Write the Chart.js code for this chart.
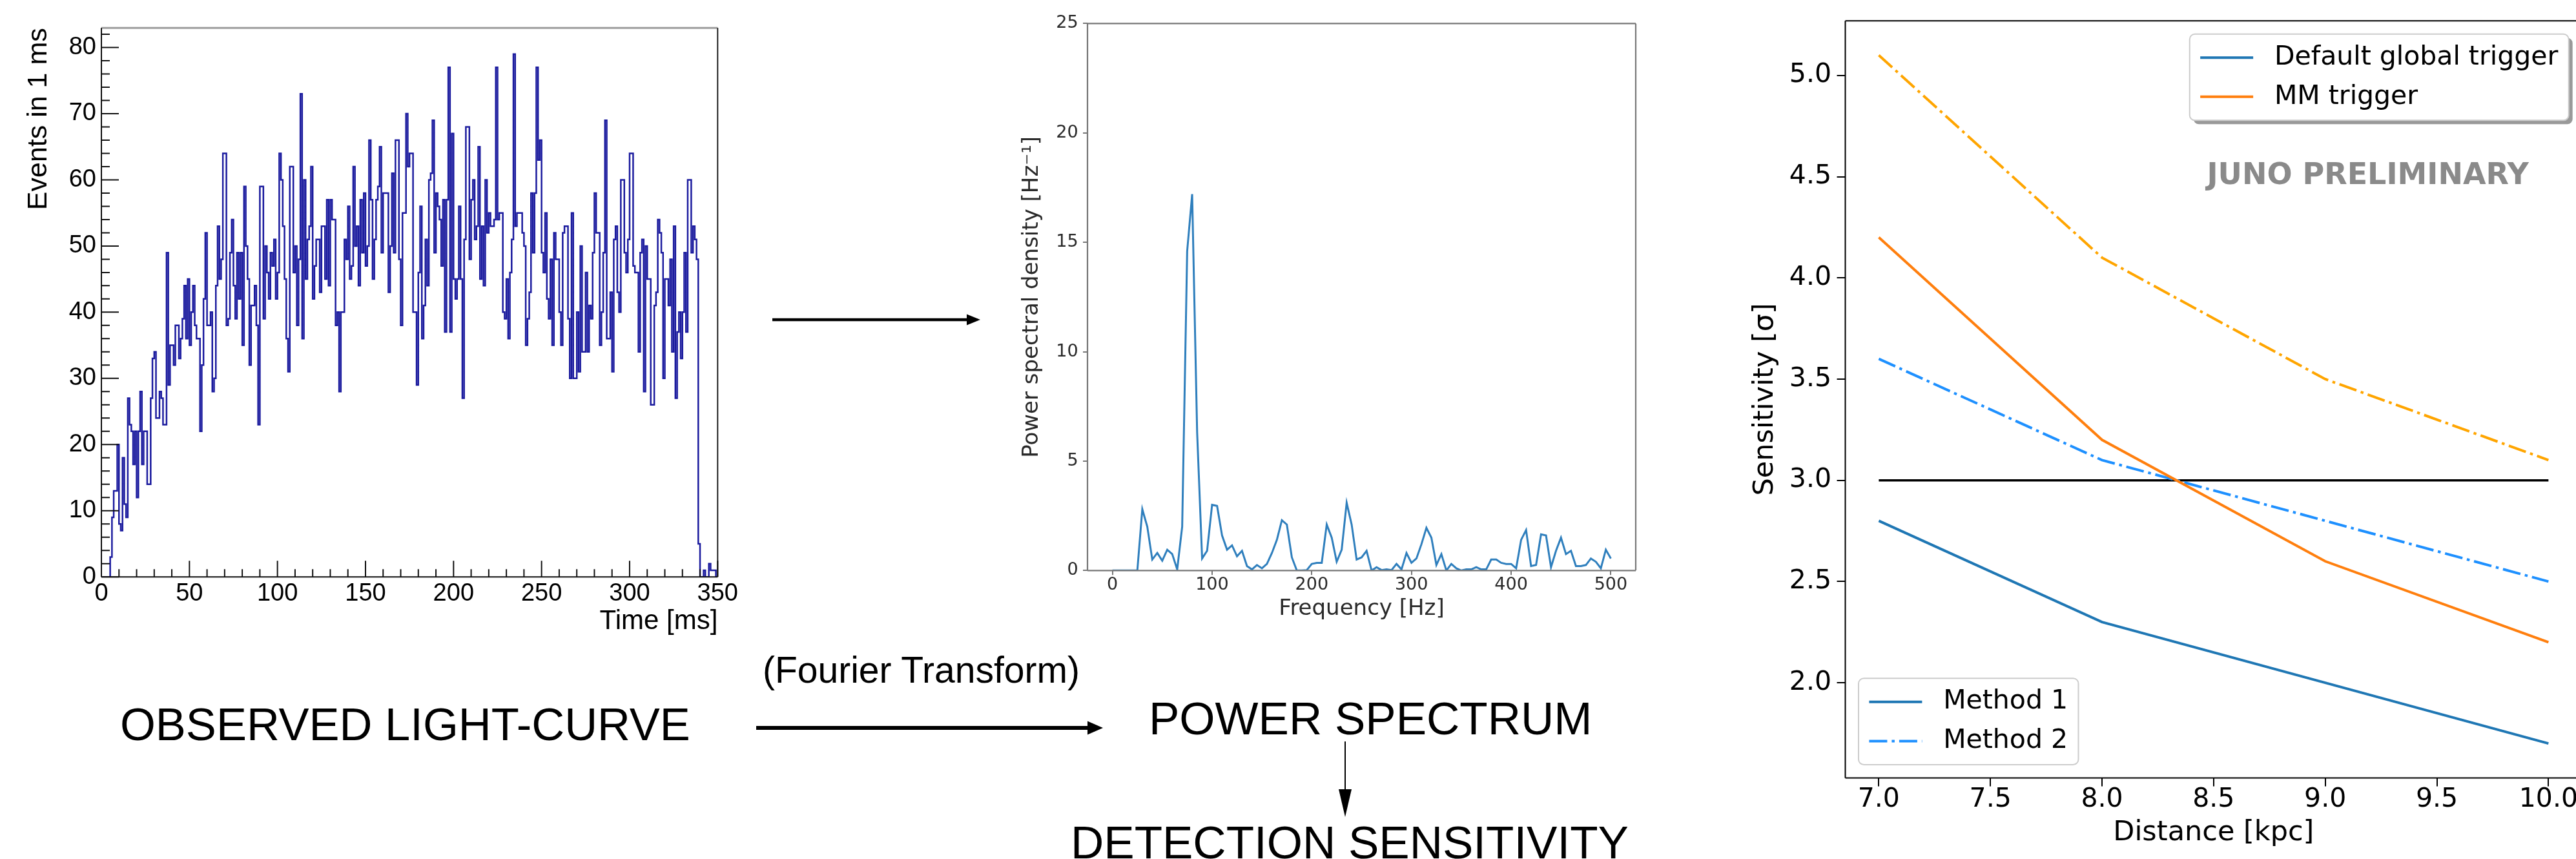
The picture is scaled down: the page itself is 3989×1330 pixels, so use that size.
<!DOCTYPE html>
<html>
<head>
<meta charset="utf-8">
<title>Light curve, power spectrum and detection sensitivity</title>
<script src="https://cdn.jsdelivr.net/npm/chart.js@4.4.1/dist/chart.umd.min.js"></script>
<style>
  html, body { margin: 0; padding: 0; background: #fff; }
  body { width: 3989px; height: 1330px; position: relative; overflow: hidden; font-family: 'Liberation Sans', Arial, sans-serif; }
  canvas { position: absolute; }
  #lightCurve { left: 0; top: 0; }
  #spectrum { left: 1560px; top: 0; }
  #sensitivity { left: 2650px; top: 0; }
  .label { position: absolute; white-space: nowrap; line-height: 1; color: #000; }
  svg { position: absolute; left: 0; top: 0; }
</style>
</head>
<body>
<canvas id="lightCurve" width="1160" height="1010"></canvas>
<canvas id="spectrum" width="1000" height="1000"></canvas>
<canvas id="sensitivity" width="1400" height="1330"></canvas>

<div class="label" style="left:186px; top:1087px; font-size:70.5px;">OBSERVED LIGHT-CURVE</div>
<div class="label" style="left:1181px; top:1009px; font-size:57px;">(Fourier Transform)</div>
<div class="label" style="left:1779px; top:1077px; font-size:71px;">POWER SPECTRUM</div>
<div class="label" style="left:1658px; top:1269px; font-size:71px;">DETECTION SENSITIVITY</div>

<svg width="3989" height="1330">
  <!-- light curve -> spectrum -->
  <line x1="1196" y1="495" x2="1500" y2="495" stroke="#000" stroke-width="4.5"/>
  <polygon points="1497,486.5 1518,495 1497,503.5" fill="#000"/>
  <!-- fourier transform arrow -->
  <line x1="1171" y1="1127" x2="1688" y2="1127" stroke="#000" stroke-width="6"/>
  <polygon points="1684,1116.5 1708,1127 1684,1137.5" fill="#000"/>
  <!-- spectrum -> sensitivity -->
  <line x1="2083" y1="1148" x2="2083" y2="1225" stroke="#000" stroke-width="2"/>
  <polygon points="2073,1222 2093,1222 2083,1265" fill="#000"/>
</svg>

<script>
// ---- light curve: events per 1 ms bin, bins starting at 0 ms ----
var lcCounts = [
  0, 0, 0, 0, 0, 3, 9, 13, 13, 20,
  8, 7, 18, 11, 9, 27, 23, 22, 17, 22,
  12, 22, 28, 17, 22, 22, 14, 14, 27, 33,
  34, 24, 24, 28, 27, 23, 23, 49, 29, 35,
  35, 32, 38, 38, 33, 36, 39, 44, 36, 45,
  35, 40, 44, 38, 36, 36, 22, 32, 42, 52,
  38, 38, 40, 28, 30, 44, 53, 45, 48, 64,
  64, 38, 39, 49, 54, 44, 39, 49, 42, 49,
  35, 59, 50, 45, 32, 41, 41, 44, 38, 23,
  59, 59, 39, 50, 46, 42, 49, 47, 51, 42,
  46, 64, 60, 53, 45, 36, 31, 62, 62, 46,
  50, 38, 48, 73, 36, 60, 45, 51, 53, 62,
  42, 47, 51, 51, 43, 53, 53, 45, 57, 44,
  57, 54, 54, 38, 40, 28, 40, 40, 51, 48,
  56, 45, 47, 62, 50, 53, 44, 57, 49, 58,
  47, 50, 66, 57, 45, 51, 57, 59, 65, 49,
  58, 58, 58, 43, 50, 61, 49, 66, 66, 48,
  38, 55, 55, 70, 62, 64, 64, 40, 40, 29,
  46, 56, 36, 41, 51, 44, 60, 61, 69, 49,
  58, 56, 54, 47, 57, 37, 57, 77, 37, 67,
  45, 42, 45, 56, 45, 27, 51, 68, 68, 48,
  57, 60, 51, 53, 65, 45, 53, 44, 60, 52,
  55, 53, 53, 54, 77, 54, 55, 55, 40, 39,
  45, 36, 46, 51, 79, 53, 55, 55, 55, 52,
  50, 35, 39, 43, 58, 49, 58, 77, 63, 66,
  49, 46, 55, 42, 39, 48, 35, 52, 48, 48,
  40, 35, 52, 53, 53, 39, 30, 55, 30, 30,
  40, 31, 50, 34, 34, 46, 34, 41, 39, 49,
  58, 52, 52, 35, 40, 49, 69, 36, 36, 43,
  31, 51, 53, 43, 40, 60, 60, 49, 46, 51,
  64, 64, 47, 46, 46, 34, 49, 51, 28, 50,
  45, 45, 26, 26, 41, 43, 54, 52, 49, 30,
  45, 45, 41, 48, 34, 53, 27, 37, 40, 33,
  40, 49, 37, 60, 60, 49, 53, 51, 48, 5,
  0, 0, 1, 0, 0, 2, 1, 1, 1, 0
];
var lcXTicks = [0, 50, 100, 150, 200, 250, 300, 350];
var lcYTicks = [0, 10, 20, 30, 40, 50, 60, 70, 80];

// ---- power spectrum ----
var psdFreq = [
  0, 5, 10, 15, 20, 25, 30, 35, 40, 45, 50, 55, 60, 65, 70, 75, 80, 85, 90, 95,
  100, 105, 110, 115, 120, 125, 130, 135, 140, 145, 150, 155, 160, 165, 170, 175, 180, 185, 190, 195,
  200, 205, 210, 215, 220, 225, 230, 235, 240, 245, 250, 255, 260, 265, 270, 275, 280, 285, 290, 295,
  300, 305, 310, 315, 320, 325, 330, 335, 340, 345, 350, 355, 360, 365, 370, 375, 380, 385, 390, 395,
  400, 405, 410, 415, 420, 425, 430, 435, 440, 445, 450, 455, 460, 465, 470, 475, 480, 485, 490, 495, 500
];
var psdPower = [
  0, 0, 0, 0, 0, 0, 2.8, 2.0, 0.5, 0.8, 0.45, 0.95, 0.75, 0.05, 2.0, 14.6, 17.2, 6.3, 0.55, 0.9,
  3.0, 2.95, 1.6, 0.95, 1.15, 0.65, 0.9, 0.2, 0.05, 0.25, 0.1, 0.3, 0.8, 1.4, 2.3, 2.1, 0.6, 0.0, 0.0, 0.02,
  0.3, 0.35, 0.35, 2.1, 1.5, 0.4, 0.95, 3.1, 2.1, 0.5, 0.6, 0.9, 0.0, 0.15, 0.02, 0.05, 0.02, 0.3, 0.05, 0.8,
  0.35, 0.55, 1.2, 1.95, 1.5, 0.25, 0.75, 0.0, 0.3, 0.1, 0.0, 0.05, 0.05, 0.15, 0.05, 0.05, 0.5, 0.5, 0.35, 0.3,
  0.3, 0.1, 1.4, 1.85, 0.2, 0.25, 1.65, 1.6, 0.15, 0.9, 1.5, 0.75, 0.9, 0.2, 0.2, 0.25, 0.55, 0.4, 0.1, 0.95, 0.55
];
var psdXTicks = [0, 100, 200, 300, 400, 500];
var psdYTicks = [0, 5, 10, 15, 20, 25];

// ---- sensitivity vs distance ----
var distance = [7.0, 8.0, 9.0, 10.0];
var m1Default = [2.8, 2.3, 2.0, 1.7];
var m1MM = [4.2, 3.2, 2.6, 2.2];
var m2Default = [3.6, 3.1, 2.8, 2.5];
var m2MM = [5.1, 4.1, 3.5, 3.1];
var threeSigma = [3.0, 3.0, 3.0, 3.0];
var sensXTicks = [7.0, 7.5, 8.0, 8.5, 9.0, 9.5, 10.0];
var sensYTicks = [2.0, 2.5, 3.0, 3.5, 4.0, 4.5, 5.0];
var triggerNames = ['Default global trigger', 'MM trigger'];
var methodNames = ['Method 1', 'Method 2'];

function pairs(xs, ys) {
  return ys.map(function(v, i) { return {x: xs[i], y: v}; });
}
function fixedTicks(list) {
  return function(scale) { scale.ticks = list.map(function(v) { return {value: v}; }); };
}

// box around the plotting area, one colour per side
var framePlugin = {
  id: 'frame',
  afterDatasetsDraw: function(chart, args, o) {
    var ctx = chart.ctx, a = chart.chartArea;
    var sides = [
      ['top', a.left, a.top, a.right, a.top],
      ['right', a.right, a.top, a.right, a.bottom],
      ['bottom', a.left, a.bottom, a.right, a.bottom],
      ['left', a.left, a.top, a.left, a.bottom]
    ];
    ctx.save();
    sides.forEach(function(s) {
      ctx.beginPath();
      ctx.strokeStyle = o[s[0]] || o.color;
      ctx.lineWidth = o[s[0] + 'Width'] || o.width;
      ctx.moveTo(s[1], s[2]);
      ctx.lineTo(s[3], s[4]);
      ctx.stroke();
    });
    ctx.restore();
  }
};

// ROOT style inward ticks with minor divisions
var rootTicks = {
  id: 'rootTicks',
  afterDatasetsDraw: function(chart, args, o) {
    var ctx = chart.ctx, a = chart.chartArea, x = chart.scales.x, y = chart.scales.y;
    ctx.save();
    ctx.strokeStyle = o.color;
    ctx.lineWidth = o.width;
    ctx.beginPath();
    for (var i = 0; i <= 35; i++) {
      var px = x.getPixelForValue(i * 10);
      var len = i % 5 === 0 ? o.xMajor : o.xMinor;
      ctx.moveTo(px, a.bottom);
      ctx.lineTo(px, a.bottom - len);
    }
    for (var j = 0; j <= 41; j++) {
      var py = y.getPixelForValue(j * 2);
      var ylen = j % 5 === 0 ? o.yMajor : o.yMinor;
      ctx.moveTo(a.left, py);
      ctx.lineTo(a.left + ylen, py);
    }
    ctx.stroke();
    ctx.restore();
  }
};

// matplotlib style legend boxes
var legendBoxes = {
  id: 'legendBoxes',
  afterDraw: function(chart, args, o) {
    var ctx = chart.ctx, a = chart.chartArea, fs = o.size;
    ctx.save();
    ctx.font = fs + 'px ' + o.family;
    o.boxes.forEach(function(box) {
      var pad = 0.4 * fs, handle = 2 * fs, gap = 0.8 * fs, rowH = 0.98 * fs, space = 0.5 * fs, edge = 0.5 * fs;
      var textW = Math.max.apply(null, box.items.map(function(it) { return ctx.measureText(it.text).width; }));
      var w = 2 * pad + handle + gap + textW;
      var h = 2 * pad + box.items.length * rowH + (box.items.length - 1) * space;
      var bx = box.loc === 'upper right' ? a.right - edge - w : a.left + edge;
      var by = box.loc === 'upper right' ? a.top + edge : a.bottom - edge - h;
      if (box.shadow) {
        ctx.beginPath();
        ctx.fillStyle = 'rgba(0,0,0,0.4)';
        ctx.roundRect(bx + 6, by + 6, w, h, 0.2 * fs);
        ctx.fill();
      }
      ctx.beginPath();
      ctx.fillStyle = '#fff';
      ctx.strokeStyle = '#cccccc';
      ctx.lineWidth = 2;
      ctx.roundRect(bx, by, w, h, 0.2 * fs);
      ctx.fill();
      ctx.stroke();
      box.items.forEach(function(it, i) {
        var ds = chart.data.datasets[it.ds];
        var cy = by + pad + rowH / 2 + i * (rowH + space);
        ctx.beginPath();
        ctx.setLineDash(ds.borderDash || []);
        ctx.strokeStyle = ds.borderColor;
        ctx.lineWidth = ds.borderWidth;
        ctx.moveTo(bx + pad, cy);
        ctx.lineTo(bx + pad + handle, cy);
        ctx.stroke();
        ctx.setLineDash([]);
        ctx.fillStyle = '#000';
        ctx.textAlign = 'left';
        ctx.textBaseline = 'middle';
        ctx.fillText(it.text, bx + pad + handle + gap, cy);
      });
    });
    ctx.restore();
  }
};

var watermark = {
  id: 'watermark',
  afterDatasetsDraw: function(chart, args, o) {
    var ctx = chart.ctx;
    ctx.save();
    ctx.font = o.font;
    ctx.fillStyle = o.color;
    ctx.textAlign = 'left';
    ctx.textBaseline = 'middle';
    ctx.fillText(o.text, chart.scales.x.getPixelForValue(o.x), chart.scales.y.getPixelForValue(o.y));
    ctx.restore();
  }
};

// ---------- observed light curve ----------
var lcPoints = pairs(lcCounts.map(function(v, i) { return i; }), lcCounts);
lcPoints.push({x: lcCounts.length, y: lcCounts[lcCounts.length - 1]});

var rootFont = {family: 'Liberation Sans', size: 38, lineHeight: 1};

new Chart(document.getElementById('lightCurve'), {
  type: 'line',
  data: {
    datasets: [{
      data: lcPoints,
      stepped: 'before',
      borderColor: '#1b1b9e',
      borderWidth: 2.5,
      pointRadius: 0,
      fill: false
    }]
  },
  options: {
    responsive: false,
    animation: false,
    layout: {padding: {top: 43.2, right: 48.7, left: 0, bottom: 0}},
    plugins: {
      legend: {display: false},
      tooltip: {enabled: false},
      frame: {color: '#111', width: 2, top: '#9c9c9c', topWidth: 3, right: '#222'},
      rootTicks: {color: '#111', width: 2, xMajor: 25, xMinor: 12, yMajor: 27, yMinor: 13}
    },
    scales: {
      x: {
        type: 'linear', min: 0, max: 350,
        afterBuildTicks: fixedTicks(lcXTicks),
        afterFit: function(s) { s.height = 116.7; },
        grid: {display: false, drawTicks: false},
        border: {display: false},
        ticks: {color: '#000', font: rootFont, padding: 7, maxRotation: 0, autoSkip: false},
        title: {display: true, text: 'Time [ms]', align: 'end', color: '#000',
                font: {family: 'Liberation Sans', size: 42}, padding: {top: 0, bottom: 22.5}}
      },
      y: {
        type: 'linear', min: 0, max: 82.95,
        afterBuildTicks: fixedTicks(lcYTicks),
        afterFit: function(s) { s.width = 157; },
        grid: {display: false, drawTicks: false},
        border: {display: false},
        ticks: {color: '#000', font: rootFont, padding: 8},
        title: {display: true, text: 'Events in 1 ms', align: 'end', color: '#000',
                font: {family: 'Liberation Sans', size: 43}, padding: {top: 34, bottom: 0}}
      }
    }
  },
  plugins: [framePlugin, rootTicks]
});

// ---------- power spectrum ----------
var mplSmall = {family: 'DejaVu Sans', size: 27, lineHeight: 1};

new Chart(document.getElementById('spectrum'), {
  type: 'line',
  data: {
    datasets: [{
      data: pairs(psdFreq, psdPower),
      borderColor: '#2f7fbd',
      borderWidth: 3,
      pointRadius: 0,
      tension: 0,
      fill: false
    }]
  },
  options: {
    responsive: false,
    animation: false,
    layout: {padding: {top: 36.4, right: 27, left: 0, bottom: 0}},
    plugins: {
      legend: {display: false},
      tooltip: {enabled: false},
      frame: {color: '#777', width: 2.2}
    },
    scales: {
      x: {
        type: 'linear', min: -25, max: 525,
        afterBuildTicks: fixedTicks(psdXTicks),
        afterFit: function(s) { s.height = 116.7; },
        grid: {drawOnChartArea: false, drawTicks: true, tickLength: 7, color: '#777', lineWidth: 2},
        border: {display: false},
        ticks: {color: '#2a2a2a', font: mplSmall, padding: 2.5, maxRotation: 0, autoSkip: false},
        title: {display: true, text: 'Frequency [Hz]', color: '#2a2a2a',
                font: {family: 'DejaVu Sans', size: 34}, padding: {top: 0, bottom: 36.6}}
      },
      y: {
        type: 'linear', min: 0, max: 25,
        afterBuildTicks: fixedTicks(psdYTicks),
        afterFit: function(s) { s.width = 124; },
        grid: {drawOnChartArea: false, drawTicks: true, tickLength: 7, color: '#777', lineWidth: 2},
        border: {display: false},
        ticks: {color: '#2a2a2a', font: mplSmall, padding: 7.4},
        title: {display: true, text: 'Power spectral density [Hz⁻¹]', color: '#2a2a2a',
                font: {family: 'DejaVu Sans', size: 34}, padding: {top: 17.6, bottom: 0}}
      }
    }
  },
  plugins: [framePlugin]
});

// ---------- detection sensitivity ----------
var mplTick = {family: 'DejaVu Sans', size: 41, lineHeight: 1};
var dashDot = [28, 7, 4.5, 7];

new Chart(document.getElementById('sensitivity'), {
  type: 'line',
  data: {
    datasets: [
      {label: triggerNames[0], data: pairs(distance, m1Default), borderColor: '#1f77b4', borderWidth: 4},
      {label: triggerNames[1], data: pairs(distance, m1MM), borderColor: '#ff7f0e', borderWidth: 4},
      {label: triggerNames[0], data: pairs(distance, m2Default), borderColor: '#1e90ff', borderWidth: 4, borderDash: dashDot},
      {label: triggerNames[1], data: pairs(distance, m2MM), borderColor: '#ffa500', borderWidth: 4, borderDash: dashDot},
      {label: '3 sigma', data: pairs(distance, threeSigma), borderColor: '#000', borderWidth: 3.5}
    ].map(function(d) { d.pointRadius = 0; d.fill = false; d.tension = 0; return d; })
  },
  options: {
    responsive: false,
    animation: false,
    layout: {padding: {top: 32.2, right: 51.8, left: 0, bottom: 0}},
    plugins: {
      legend: {display: false},
      tooltip: {enabled: false},
      frame: {color: '#000', width: 2},
      watermark: {text: 'JUNO PRELIMINARY', x: 8.47, y: 4.5, color: '#8a8a8a', font: 'bold 46px "DejaVu Sans"'},
      legendBoxes: {
        size: 41, family: '"DejaVu Sans"',
        boxes: [
          {loc: 'upper right', shadow: true, items: [{text: triggerNames[0], ds: 0}, {text: triggerNames[1], ds: 1}]},
          {loc: 'lower left', shadow: false, items: [{text: methodNames[0], ds: 0}, {text: methodNames[1], ds: 2}]}
        ]
      }
    },
    scales: {
      x: {
        type: 'linear', min: 6.85, max: 10.15,
        afterBuildTicks: fixedTicks(sensXTicks),
        afterFit: function(s) { s.height = 125.6; },
        grid: {drawOnChartArea: false, drawTicks: true, tickLength: 13, color: '#000', lineWidth: 2},
        border: {display: false},
        ticks: {color: '#000', font: mplTick, padding: 0, maxRotation: 0, autoSkip: false,
                callback: function(v) { return v.toFixed(1); }},
        title: {display: true, text: 'Distance [kpc]', color: '#000',
                font: {family: 'DejaVu Sans', size: 43}, padding: {top: 0, bottom: 14}}
      },
      y: {
        type: 'linear', min: 1.53, max: 5.27,
        afterBuildTicks: fixedTicks(sensYTicks),
        afterFit: function(s) { s.width = 207.5; },
        grid: {drawOnChartArea: false, drawTicks: true, tickLength: 13, color: '#000', lineWidth: 2},
        border: {display: false},
        ticks: {color: '#000', font: mplTick, padding: 8.5,
                callback: function(v) { return v.toFixed(1); }},
        title: {display: true, text: 'Sensitivity [σ]', color: '#000',
                font: {family: 'DejaVu Sans', size: 43}, padding: {top: 57.8, bottom: 0}}
      }
    }
  },
  plugins: [framePlugin, legendBoxes, watermark]
});
</script>
</body>
</html>
